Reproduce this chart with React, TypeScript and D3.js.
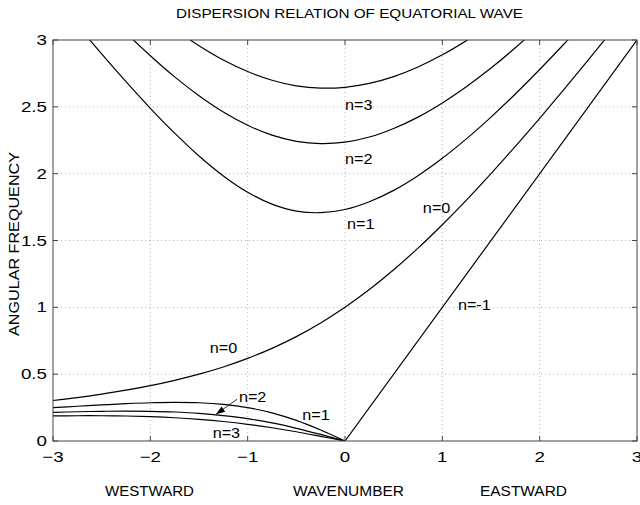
import React from "react";
import * as d3 from "d3";

// wavenumber samples
const K_FULL = [-3, -2.75, -2.5, -2.25, -2, -1.75, -1.5, -1.25, -1, -0.75, -0.5, -0.25, 0, 0.25, 0.5, 0.75, 1, 1.25, 1.5, 1.75, 2, 2.25, 2.5, 2.75];
const K_WEST = [-3, -2.75, -2.5, -2.25, -2, -1.75, -1.5, -1.25, -1, -0.75, -0.5, -0.25, 0];

// inertia-gravity n=1
const IG1_K = [-2.75, -2.5, -2.25, -2, -1.75, -1.5, -1.25, -1, -0.75, -0.5, -0.25, 0, 0.25, 0.5, 0.75, 1, 1.25, 1.5, 1.75, 2, 2.25, 2.5];
const IG1_W = [3.111, 2.896, 2.688, 2.489, 2.303, 2.132, 1.983, 1.861, 1.772, 1.720, 1.708, 1.732, 1.790, 1.875, 1.985, 2.115, 2.262, 2.423, 2.596, 2.779, 2.970, 3.168];
// inertia-gravity n=2
const IG2_K = [-2.5, -2.25, -2, -1.75, -1.5, -1.25, -1, -0.75, -0.5, -0.25, 0, 0.25, 0.5, 0.75, 1, 1.25, 1.5, 1.75, 2];
const IG2_W = [3.237, 3.054, 2.882, 2.724, 2.583, 2.461, 2.362, 2.288, 2.242, 2.225, 2.236, 2.274, 2.338, 2.423, 2.529, 2.652, 2.790, 2.942, 3.105];
// inertia-gravity n=3
const IG3_K = [-1.75, -1.5, -1.25, -1, -0.75, -0.5, -0.25, 0, 0.25, 0.5, 0.75, 1, 1.25, 1.5];
const IG3_W = [3.081, 2.957, 2.850, 2.764, 2.699, 2.657, 2.640, 2.646, 2.675, 2.726, 2.798, 2.889, 2.997, 3.119];
// mixed Rossby-gravity n=0
const MRG_W = [0.303, 0.325, 0.351, 0.380, 0.414, 0.454, 0.500, 0.554, 0.618, 0.693, 0.781, 0.883, 1.000, 1.133, 1.281, 1.443, 1.618, 1.804, 2.000, 2.204, 2.414, 2.630, 2.851, 3.075];
// Kelvin n=-1
const KELVIN_K = [0, 3];
const KELVIN_W = [0, 3];
// Rossby n=1,2,3
const R1_W = [0.250, 0.260, 0.270, 0.279, 0.286, 0.289, 0.286, 0.274, 0.250, 0.211, 0.154, 0.082, 0];
const R2_W = [0.214, 0.219, 0.222, 0.224, 0.222, 0.217, 0.207, 0.190, 0.167, 0.135, 0.095, 0.049, 0];
const R3_W = [0.188, 0.189, 0.189, 0.187, 0.182, 0.174, 0.162, 0.146, 0.125, 0.099, 0.069, 0.035, 0];

const X_TICKS = [-3, -2, -1, 0, 1, 2, 3];
const Y_TICKS = [0, 0.5, 1, 1.5, 2, 2.5, 3];

// curve labels (data coordinates)
const LABEL_TEXT = ["n=3", "n=2", "n=1", "n=0", "n=-1", "n=0", "n=2", "n=1", "n=3"];
const LABEL_K = [0.0, 0.0, 0.02, 0.80, 1.16, -1.39, -1.09, -0.44, -1.36];
const LABEL_W = [2.476, 2.072, 1.586, 1.706, 0.98, 0.658, 0.292, 0.157, 0.022];

const ARROW_FROM = [-1.11, 0.312];
const ARROW_TO = [-1.325, 0.2];

const TITLE = "DISPERSION RELATION OF EQUATORIAL WAVE";
const Y_LABEL = "ANGULAR FREQUENCY";
const BOTTOM_LABELS = ["WESTWARD", "WAVENUMBER", "EASTWARD"];

const W = 640, H = 505;
const M = { left: 53, right: 3, top: 40, bottom: 64 };
const FONT = "'Liberation Sans', Arial, Helvetica, sans-serif";

export default function App() {
  const x = d3.scaleLinear().domain([-3, 3]).range([M.left, W - M.right]);
  const y = d3.scaleLinear().domain([0, 3]).range([H - M.bottom, M.top]);
  const line = d3
    .line<[number, number]>()
    .x((d) => x(d[0]))
    .y((d) => y(d[1]))
    .curve(d3.curveCatmullRom.alpha(0.5));

  const zip = (ks: number[], ws: number[]) => ks.map((k, i) => [k, ws[i]] as [number, number]);
  const series = [
    zip(IG1_K, IG1_W),
    zip(IG2_K, IG2_W),
    zip(IG3_K, IG3_W),
    zip(K_FULL, MRG_W),
    zip(KELVIN_K, KELVIN_W),
    zip(K_WEST, R1_W),
    zip(K_WEST, R2_W),
    zip(K_WEST, R3_W),
  ];

  const x0 = x(-3), x1 = x(3), y0 = y(0), y1 = y(3);
  const tickLen = 5;
  const ax = x(ARROW_FROM[0]), ay = y(ARROW_FROM[1]);
  const bx = x(ARROW_TO[0]), by = y(ARROW_TO[1]);
  const ang = Math.atan2(by - ay, bx - ax);
  const hl = 9, hw = 3.2;
  const head = [
    [bx, by],
    [bx - hl * Math.cos(ang) + hw * Math.sin(ang), by - hl * Math.sin(ang) - hw * Math.cos(ang)],
    [bx - hl * Math.cos(ang) - hw * Math.sin(ang), by - hl * Math.sin(ang) + hw * Math.cos(ang)],
  ];
  const bottomX = [149.5, 348.5, 523.5];
  const bottomLen = [89, 111, 87];

  return (
    <svg width={W} height={H} style={{ position: "absolute", left: 0, top: 0, background: "#fff" }} fontFamily={FONT}>
      <rect x={0} y={0} width={W} height={H} fill="#fff" />
      <defs>
        <clipPath id="plot">
          <rect x={x0} y={y1} width={x1 - x0} height={y0 - y1} />
        </clipPath>
      </defs>
      {/* grid */}
      {X_TICKS.slice(1, -1).map((t) => (
        <line key={"gx" + t} x1={x(t)} x2={x(t)} y1={y1} y2={y0} stroke="#b4b4b4" strokeWidth={1} strokeDasharray="1,3" />
      ))}
      {Y_TICKS.slice(1, -1).map((t) => (
        <line key={"gy" + t} x1={x0} x2={x1} y1={y(t)} y2={y(t)} stroke="#b4b4b4" strokeWidth={1} strokeDasharray="1,3" />
      ))}
      {/* curves */}
      <g clipPath="url(#plot)">
        {series.map((s, i) => (
          <path key={i} d={line(s) || ""} fill="none" stroke="#000" strokeWidth={1.2} />
        ))}
      </g>
      {/* frame */}
      <rect x={x0} y={y1} width={x1 - x0} height={y0 - y1} fill="none" stroke="#444" strokeWidth={1} />
      {/* ticks */}
      {X_TICKS.map((t) => (
        <g key={"tx" + t}>
          <line x1={x(t)} x2={x(t)} y1={y0} y2={y0 - tickLen} stroke="#444" />
          <line x1={x(t)} x2={x(t)} y1={y1} y2={y1 + tickLen} stroke="#444" />
          <text transform={`translate(${x(t)},${y0 + 21}) scale(1.25,1)`} fontSize={15} textAnchor="middle" fill="#000">
            {t < 0 ? "\u2212" + Math.abs(t) : String(t)}
          </text>
        </g>
      ))}
      {Y_TICKS.map((t) => (
        <g key={"ty" + t}>
          <line x1={x0} x2={x0 + tickLen} y1={y(t)} y2={y(t)} stroke="#444" />
          <line x1={x1} x2={x1 - tickLen} y1={y(t)} y2={y(t)} stroke="#444" />
          <text transform={`translate(${x0 - 6},${y(t) + 5}) scale(1.25,1)`} fontSize={15} textAnchor="end" fill="#000">
            {String(t)}
          </text>
        </g>
      ))}
      {/* labels */}
      {LABEL_TEXT.map((s, i) => (
        <text key={"l" + i} transform={`translate(${x(LABEL_K[i])},${y(LABEL_W[i])}) scale(1.08,1)`} fontSize={15} fill="#000">
          {s}
        </text>
      ))}
      {/* arrow */}
      <line x1={ax} y1={ay} x2={bx} y2={by} stroke="#000" strokeWidth={0.8} />
      <polygon points={head.map((p) => p.join(",")).join(" ")} fill="#000" />
      {/* titles */}
      <text x={349.5} y={18} fontSize={13.5} textAnchor="middle" fill="#000" textLength={347} lengthAdjust="spacingAndGlyphs">
        {TITLE}
      </text>
      <text transform={`translate(19,244) rotate(-90)`} fontSize={15} textAnchor="middle" fill="#000" textLength={184} lengthAdjust="spacingAndGlyphs">
        {Y_LABEL}
      </text>
      {BOTTOM_LABELS.map((s, i) => (
        <text key={s} x={bottomX[i]} y={496} fontSize={14} textAnchor="middle" fill="#000" textLength={bottomLen[i]} lengthAdjust="spacingAndGlyphs">
          {s}
        </text>
      ))}
    </svg>
  );
}
